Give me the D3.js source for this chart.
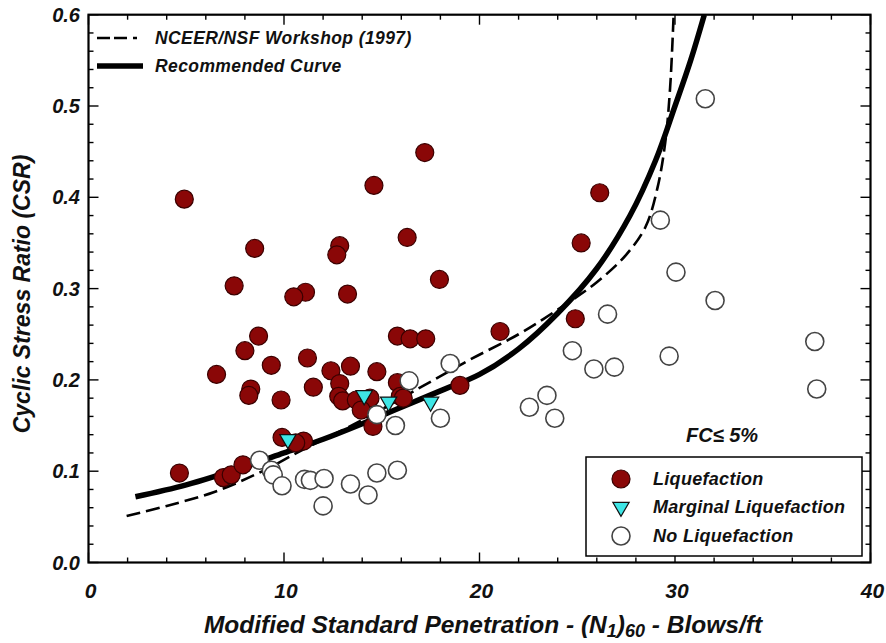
<!DOCTYPE html>
<html>
<head>
<meta charset="utf-8">
<script src="https://cdn.jsdelivr.net/npm/d3@7/dist/d3.min.js"></script>
<style>
  html, body { margin: 0; padding: 0; background: #fff; }
  svg { display: block; }
  text { font-family: "Liberation Sans", Arial, sans-serif; font-weight: bold; font-style: italic; fill: #111; }
  .narrow { font-family: "Liberation Sans Narrow", "Liberation Sans", Arial, sans-serif; }
</style>
</head>
<body>
<svg id="chart" width="886" height="643"></svg>
<script>
// Field case histories: (N1)60 vs cyclic stress ratio
const liquefaction = [
  [4.9, 0.398], [17.2, 0.449], [14.6, 0.413], [16.3, 0.356], [8.5, 0.344],
  [12.85, 0.347], [12.7, 0.337], [17.95, 0.310], [7.45, 0.303], [11.1, 0.296],
  [10.5, 0.291], [13.25, 0.294], [8.7, 0.248], [8.0, 0.232], [9.35, 0.216],
  [6.55, 0.206], [11.2, 0.224], [8.3, 0.190], [8.2, 0.183], [9.85, 0.178],
  [11.5, 0.192], [12.4, 0.210], [15.8, 0.248], [16.45, 0.245], [17.25, 0.245],
  [13.4, 0.215], [14.75, 0.209], [12.85, 0.196], [15.8, 0.197], [19.0, 0.194],
  [12.8, 0.182], [13.0, 0.177], [13.7, 0.178], [14.4, 0.180], [15.95, 0.182],
  [13.95, 0.167], [14.55, 0.149], [16.1, 0.180], [21.05, 0.253], [26.15, 0.405],
  [25.2, 0.350], [24.9, 0.267], [4.65, 0.098], [6.9, 0.093], [7.3, 0.096],
  [7.9, 0.107], [9.9, 0.137], [11.0, 0.133], [10.6, 0.131]
];
const marginal = [[10.2, 0.135], [14.1, 0.183], [15.35, 0.176], [17.5, 0.176]];
const noLiquefaction = [
  [31.55, 0.508], [29.25, 0.375], [30.05, 0.318], [32.05, 0.287], [26.55, 0.272],
  [24.75, 0.232], [25.85, 0.212], [26.9, 0.214], [29.7, 0.226], [37.15, 0.242],
  [37.25, 0.190], [23.45, 0.183], [22.55, 0.170], [23.85, 0.158], [18.5, 0.218],
  [16.4, 0.199], [14.75, 0.162], [15.7, 0.150], [18.0, 0.158], [8.75, 0.112],
  [9.35, 0.101], [9.45, 0.096], [9.9, 0.084], [11.05, 0.091], [11.35, 0.090],
  [12.05, 0.092], [12.0, 0.062], [13.4, 0.086], [14.75, 0.098], [15.8, 0.101],
  [14.3, 0.074]
];
// Boundary curves
const recommendedCurve = [
  [2.4, 0.072], [5, 0.085], [8, 0.105], [10, 0.120], [12, 0.135], [14, 0.152],
  [16, 0.170], [18, 0.188], [20, 0.206], [22, 0.234], [24, 0.273], [26, 0.322],
  [27.7, 0.380], [29, 0.440], [30, 0.500], [30.8, 0.550], [31.5, 0.600]
];
const nceerCurve = [
  [1.95, 0.051], [4, 0.062], [6.4, 0.077], [8.8, 0.099], [11, 0.124], [14, 0.156],
  [17, 0.192], [19.5, 0.222], [22, 0.250], [24, 0.277], [26, 0.307], [27.5, 0.337],
  [28.5, 0.368], [29.1, 0.410], [29.5, 0.460], [29.75, 0.520], [29.93, 0.600]
];
const xTicks = [0, 10, 20, 30, 40];
const yTicks = [0.0, 0.1, 0.2, 0.3, 0.4, 0.5, 0.6];

const svg = d3.select("#chart");
const x = d3.scaleLinear().domain([0, 40]).range([88.5, 870.5]);
const y = d3.scaleLinear().domain([0, 0.6]).range([562.5, 14.7]);

// curves
const line = d3.line().x(d => x(d[0])).y(d => y(d[1])).curve(d3.curveCatmullRom.alpha(0.5));
svg.append("path").datum(nceerCurve).attr("d", line)
  .attr("fill", "none").attr("stroke", "#000").attr("stroke-width", 2.6)
  .attr("stroke-dasharray", "14,6");
svg.append("path").datum(recommendedCurve).attr("d", line)
  .attr("fill", "none").attr("stroke", "#000").attr("stroke-width", 5.5);

// markers
const R = 9;
svg.append("g").selectAll("circle").data(liquefaction).join("circle")
  .attr("cx", d => x(d[0])).attr("cy", d => y(d[1])).attr("r", R)
  .attr("fill", "#8a0707").attr("stroke", "#3a0000").attr("stroke-width", 1.2);
svg.append("g").selectAll("circle").data(noLiquefaction).join("circle")
  .attr("cx", d => x(d[0])).attr("cy", d => y(d[1])).attr("r", R)
  .attr("fill", "#fff").attr("stroke", "#444").attr("stroke-width", 1.6);
const tri = d3.symbol().type(d3.symbolTriangle).size(115);
svg.append("g").selectAll("path").data(marginal).join("path")
  .attr("d", tri)
  .attr("transform", d => `translate(${x(d[0])},${y(d[1])}) rotate(180)`)
  .attr("fill", "#3ee6e6").attr("stroke", "#111").attr("stroke-width", 1.2);

// frame and inward ticks
const x0 = x(0), x1 = x(40), yb = y(0), yt = y(0.6);
const tickG = svg.append("g").attr("stroke", "#000").attr("stroke-width", 1.4);
d3.range(0, 40.001, 2).forEach(v => {
  const len = v % 10 === 0 ? 10 : 5;
  tickG.append("line").attr("x1", x(v)).attr("x2", x(v)).attr("y1", yb).attr("y2", yb - len);
  tickG.append("line").attr("x1", x(v)).attr("x2", x(v)).attr("y1", yt).attr("y2", yt + len);
});
d3.range(0, 0.6001, 0.02).forEach(v => {
  const major = Math.abs(v * 10 - Math.round(v * 10)) < 1e-6;
  const len = major ? 10 : 5;
  tickG.append("line").attr("x1", x0).attr("x2", x0 + len).attr("y1", y(v)).attr("y2", y(v));
  tickG.append("line").attr("x1", x1).attr("x2", x1 - len).attr("y1", y(v)).attr("y2", y(v));
});
svg.append("rect").attr("x", x0).attr("y", yt).attr("width", x1 - x0).attr("height", yb - yt)
  .attr("fill", "none").attr("stroke", "#000").attr("stroke-width", 2.2);

// tick labels
svg.append("g").selectAll("text").data(xTicks).join("text")
  .attr("class", "narrow")
  .attr("x", d => x(d) + 2).attr("y", 598).attr("text-anchor", "middle")
  .attr("font-size", 21).text(d => d);
svg.append("g").selectAll("text").data(yTicks).join("text")
  .attr("x", 80).attr("y", d => y(d) + 7).attr("text-anchor", "end")
  .attr("font-size", 20).text(d => d.toFixed(1));

// axis titles
const xt = svg.append("text").attr("class", "narrow").attr("x", 483).attr("y", 633)
  .attr("text-anchor", "middle").attr("font-size", 24.5);
xt.append("tspan").text("Modified Standard Penetration - (N");
xt.append("tspan").attr("font-size", 18).attr("dy", 4).text("1");
xt.append("tspan").attr("dy", -4).text(")");
xt.append("tspan").attr("font-size", 18).attr("dy", 4).text("60");
xt.append("tspan").attr("dy", -4).text(" - Blows/ft");

svg.append("text").attr("transform", "translate(30,294) rotate(-90)")
  .attr("text-anchor", "middle").attr("font-size", 23)
  .text("Cyclic Stress Ratio (CSR)");

// curve legend
svg.append("line").attr("x1", 97).attr("x2", 143).attr("y1", 38).attr("y2", 38)
  .attr("stroke", "#000").attr("stroke-width", 2.6).attr("stroke-dasharray", "13,4,13,6,4");
svg.append("text").attr("x", 155).attr("y", 44).attr("font-size", 17.5)
  .attr("letter-spacing", 0.4).text("NCEER/NSF Workshop (1997)");
svg.append("line").attr("x1", 97).attr("x2", 143).attr("y1", 66).attr("y2", 66)
  .attr("stroke", "#000").attr("stroke-width", 5.5);
svg.append("text").attr("x", 155).attr("y", 72).attr("font-size", 17.5)
  .attr("letter-spacing", 0.4).text("Recommended Curve");

// fines content note
svg.append("text").attr("x", 686).attr("y", 442).attr("font-size", 20)
  .attr("font-weight", "normal").text("FC\u2264 5%");

// marker legend
svg.append("rect").attr("x", 586).attr("y", 457).attr("width", 276).attr("height", 99)
  .attr("fill", "#fff").attr("stroke", "#000").attr("stroke-width", 1.5);
const lx = 621, lt = 653;
svg.append("circle").attr("cx", lx).attr("cy", 479).attr("r", R)
  .attr("fill", "#8a0707").attr("stroke", "#3a0000").attr("stroke-width", 1.2);
svg.append("path").attr("d", tri).attr("transform", `translate(${lx},507) rotate(180)`)
  .attr("fill", "#3ee6e6").attr("stroke", "#111").attr("stroke-width", 1.2);
svg.append("circle").attr("cx", lx).attr("cy", 536).attr("r", R)
  .attr("fill", "#fff").attr("stroke", "#444").attr("stroke-width", 1.6);
[["Liquefaction", 479], ["Marginal Liquefaction", 507], ["No Liquefaction", 536]].forEach(([t, cy]) => {
  svg.append("text").attr("x", lt).attr("y", cy + 6).attr("font-size", 18)
    .attr("letter-spacing", 0.3).text(t);
});
</script>
</body>
</html>
